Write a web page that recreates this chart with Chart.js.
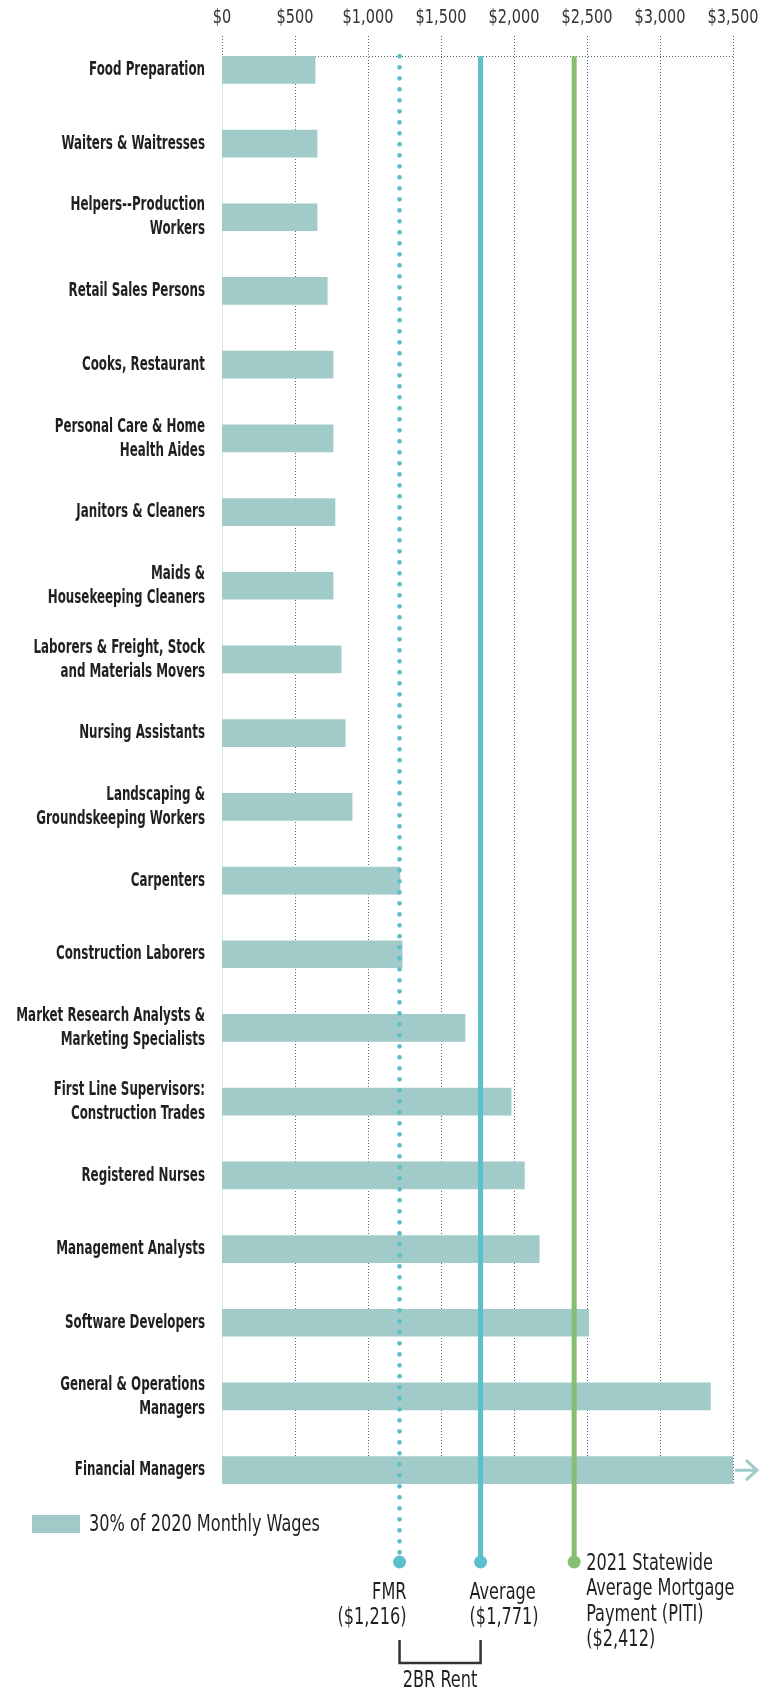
<!DOCTYPE html>
<html>
<head>
<meta charset="utf-8">
<script src="https://cdn.jsdelivr.net/npm/chart.js@4.4.1/dist/chart.umd.min.js"></script>
<style>
  html, body { margin: 0; padding: 0; background: #fff; }
  #wrap { width: 773px; height: 1689px; }
</style>
</head>
<body>
<div id="wrap"><canvas id="chart" width="773" height="1689"></canvas></div>
<script>
// occupations, top to bottom
const categories = [
  'Food Preparation',
  'Waiters & Waitresses',
  ['Helpers--Production', 'Workers'],
  'Retail Sales Persons',
  'Cooks, Restaurant',
  ['Personal Care & Home', 'Health Aides'],
  'Janitors & Cleaners',
  ['Maids &', 'Housekeeping Cleaners'],
  ['Laborers & Freight, Stock', 'and Materials Movers'],
  'Nursing Assistants',
  ['Landscaping &', 'Groundskeeping Workers'],
  'Carpenters',
  'Construction Laborers',
  ['Market Research Analysts &', 'Marketing Specialists'],
  ['First Line Supervisors:', 'Construction Trades'],
  'Registered Nurses',
  'Management Analysts',
  'Software Developers',
  ['General & Operations', 'Managers'],
  'Financial Managers'
];

// 30% of 2020 monthly wages ($); last one runs past the axis
const wageValues = [638, 651, 651, 721, 761, 761, 774, 761, 816, 844, 891,
                    1219, 1234, 1665, 1980, 2071, 2173, 2511, 3345, 3500];

const tickValues = [0, 500, 1000, 1500, 2000, 2500, 3000, 3500];

// reference lines: FMR, average 2BR rent, mortgage payment
const refValues = [1216, 1771, 2412];
const refTitles = [
  ['FMR', '($1,216)'],
  ['Average', '($1,771)'],
  ['2021 Statewide', 'Average Mortgage', 'Payment (PITI)', '($2,412)']
];
const bracketTitle = '2BR Rent';
const legendLabel = '30% of 2020 Monthly Wages';

// no narrow face installed, so text is squeezed horizontally
const FONT = "'DejaVu Sans Condensed', 'DejaVu Sans', sans-serif";
const BAR = '#a1cbc8';
const TEAL = '#5bbfcc';
const GREEN = '#86be73';
const INK = '#231f20';

function squeezed(ctx, text, x, y, align, sx) {
  ctx.save();
  ctx.translate(x, y);
  ctx.scale(sx, 1);
  ctx.textAlign = align;
  ctx.fillText(text, 0, 0);
  ctx.restore();
}

const overlay = {
  id: 'overlay',
  beforeDatasetsDraw(chart) {
    const { ctx, chartArea } = chart;
    const x = chart.scales.x;
    const y = chart.scales.y;
    const bars = chart.getDatasetMeta(0).data;
    const topY = bars[0].y - bars[0].height / 2;
    const last = bars[bars.length - 1];
    const botY = last.y + last.height / 2;

    ctx.save();
    // vertical dotted grid
    ctx.strokeStyle = '#56606b';
    ctx.lineWidth = 1;
    ctx.setLineDash([1, 2]);
    tickValues.forEach(v => {
      const px = Math.round(x.getPixelForValue(v)) + 0.5;
      ctx.beginPath();
      ctx.moveTo(px, chartArea.top + 3);
      ctx.lineTo(px, botY);
      ctx.stroke();
    });
    // top dotted rule
    ctx.beginPath();
    ctx.moveTo(x.getPixelForValue(0), Math.round(topY) + 0.5);
    ctx.lineTo(x.getPixelForValue(3500), Math.round(topY) + 0.5);
    ctx.stroke();
    ctx.setLineDash([]);
    // faint left axis
    ctx.strokeStyle = '#d9e9e7';
    ctx.beginPath();
    ctx.moveTo(Math.round(x.getPixelForValue(0)) + 0.5, topY);
    ctx.lineTo(Math.round(x.getPixelForValue(0)) + 0.5, botY);
    ctx.stroke();

    // x tick labels
    ctx.fillStyle = '#333';
    ctx.font = '19px ' + FONT;
    ctx.textBaseline = 'middle';
    tickValues.forEach(v => {
      squeezed(ctx, '$' + v.toLocaleString('en-US'), x.getPixelForValue(v), chartArea.top - 15, 'center', 0.85);
    });

    // category labels
    ctx.fillStyle = INK;
    ctx.font = 'bold 20px ' + FONT;
    categories.forEach((c, i) => {
      const lines = Array.isArray(c) ? c : [c];
      const cy = y.getPixelForTick(i);
      lines.forEach((t, j) => {
        squeezed(ctx, t, chartArea.left - 17, cy + (j - (lines.length - 1) / 2) * 24, 'right', 0.66);
      });
    });
    ctx.restore();
  },
  afterDatasetsDraw(chart) {
    const { ctx, chartArea } = chart;
    const x = chart.scales.x;
    const bars = chart.getDatasetMeta(0).data;
    const topY = bars[0].y - bars[0].height / 2;
    const endY = chartArea.bottom + 55;
    const xs = refValues.map(v => x.getPixelForValue(v));

    ctx.save();
    // arrow past the last bar
    const last = bars[bars.length - 1];
    ctx.strokeStyle = BAR;
    ctx.lineWidth = 3;
    ctx.beginPath();
    ctx.moveTo(last.x + 2, last.y);
    ctx.lineTo(last.x + 24, last.y);
    ctx.moveTo(last.x + 13, last.y - 10);
    ctx.lineTo(last.x + 24, last.y);
    ctx.lineTo(last.x + 13, last.y + 10);
    ctx.stroke();

    // FMR: dotted
    ctx.fillStyle = TEAL;
    for (let y = topY; y < endY - 8; y += 11) {
      ctx.beginPath();
      ctx.arc(xs[0], y, 2.3, 0, Math.PI * 2);
      ctx.fill();
    }
    // average and mortgage: solid
    [[xs[1], TEAL], [xs[2], GREEN]].forEach(([px, col]) => {
      ctx.strokeStyle = col;
      ctx.lineWidth = 5;
      ctx.beginPath();
      ctx.moveTo(px, topY);
      ctx.lineTo(px, endY);
      ctx.stroke();
    });
    [[xs[0], TEAL], [xs[1], TEAL], [xs[2], GREEN]].forEach(([px, col]) => {
      ctx.fillStyle = col;
      ctx.beginPath();
      ctx.arc(px, endY, 6.5, 0, Math.PI * 2);
      ctx.fill();
    });

    // labels under the lines
    const SX = 0.78;
    ctx.fillStyle = INK;
    ctx.font = '23px ' + FONT;
    ctx.textBaseline = 'middle';
    refTitles[0].forEach((t, i) => squeezed(ctx, t, xs[0] + 7, endY + 31 + i * 25, 'right', SX));
    refTitles[1].forEach((t, i) => squeezed(ctx, t, xs[1] - 11, endY + 31 + i * 25, 'left', SX));
    refTitles[2].forEach((t, i) => squeezed(ctx, t, xs[2] + 12, endY + 2 + i * 25.5, 'left', SX));

    // bracket joining the two rent figures
    ctx.strokeStyle = '#333';
    ctx.lineWidth = 2.5;
    ctx.beginPath();
    ctx.moveTo(xs[0], endY + 78);
    ctx.lineTo(xs[0], endY + 101);
    ctx.lineTo(xs[1], endY + 101);
    ctx.lineTo(xs[1], endY + 78);
    ctx.stroke();
    squeezed(ctx, bracketTitle, (xs[0] + xs[1]) / 2, endY + 119, 'center', SX);

    // legend
    ctx.fillStyle = BAR;
    ctx.fillRect(32, chartArea.bottom + 8, 48, 18);
    ctx.fillStyle = INK;
    squeezed(ctx, legendLabel, 89, chartArea.bottom + 18, 'left', SX);
    ctx.restore();
  }
};

new Chart(document.getElementById('chart'), {
  type: 'bar',
  data: {
    labels: categories,
    datasets: [{
      label: legendLabel,
      data: wageValues,
      backgroundColor: BAR,
      borderWidth: 0,
      barThickness: 27
    }]
  },
  options: {
    indexAxis: 'y',
    responsive: false,
    animation: false,
    layout: { padding: { top: 0, right: 40, bottom: 182, left: 0 } },
    plugins: {
      legend: { display: false },
      tooltip: { enabled: false }
    },
    scales: {
      x: {
        position: 'top',
        min: 0,
        max: 3500,
        afterBuildTicks(scale) { scale.ticks = tickValues.map(v => ({ value: v })); },
        afterFit(scale) { scale.height = 33; },
        grid: { display: false, drawTicks: false },
        border: { display: false },
        ticks: { display: false }
      },
      y: {
        afterFit(scale) { scale.width = 222; },
        grid: { display: false, drawTicks: false },
        border: { display: false },
        ticks: { display: false, autoSkip: false }
      }
    }
  },
  plugins: [overlay]
});
</script>
</body>
</html>
